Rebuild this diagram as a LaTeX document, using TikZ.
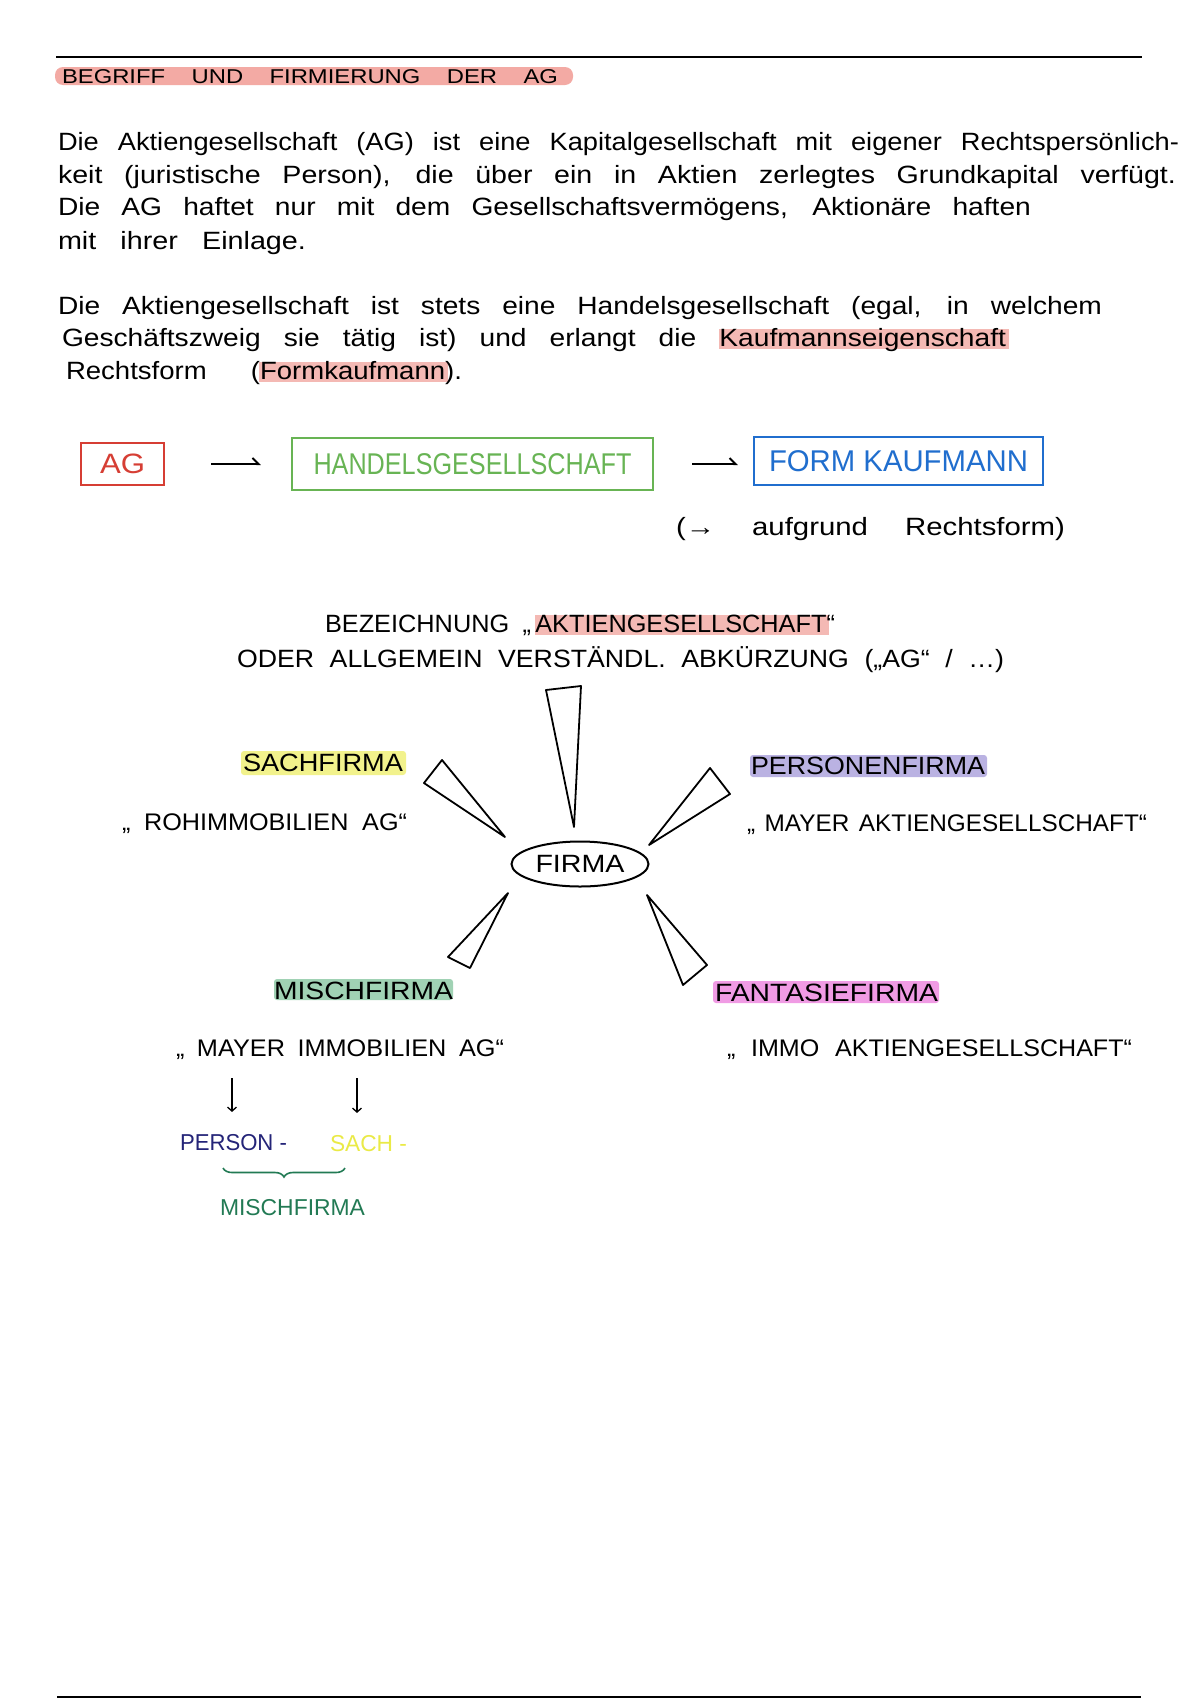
\documentclass[tikz,border=0pt]{standalone}
\usepackage{fontspec}
\setmainfont{Liberation Sans}
\usetikzlibrary{shapes.geometric,arrows.meta,decorations.pathreplacing}
\definecolor{hlred}{RGB}{243,170,164}
\definecolor{hlred2}{RGB}{244,185,180}
\definecolor{agred}{RGB}{214,62,52}
\definecolor{hggreen}{RGB}{104,180,84}
\definecolor{fkblue}{RGB}{32,110,206}
\definecolor{hlyellow}{RGB}{242,242,140}
\definecolor{hlpurple}{RGB}{186,178,226}
\definecolor{hlgreen}{RGB}{160,210,180}
\definecolor{hlmagenta}{RGB}{240,155,228}
\definecolor{navy}{RGB}{36,36,120}
\definecolor{sachyellow}{RGB}{234,234,70}
\definecolor{brgreen}{RGB}{34,122,84}
\newlength\hwlen
\newlength\hwtmp
\newcommand\fitto[2]{\settowidth\hwlen{#2}\pgfmathsetmacro\hwsx{#1/\hwlen}\scalebox{\hwsx}[1]{#2}}
\newcommand\sline[2]{\settowidth\hwlen{#2}\ifdim\hwlen>#1pt\relax\fitto{#1}{#2}\else\pgfmathsetmacro\hwsx{(#1/\hwlen)^0.5}\pgfmathsetmacro\hwW{#1/\hwsx}\scalebox{\hwsx}[1]{\makebox[\hwW pt][s]{#2}}\fi}
\newcommand\hlw[2]{\settowidth\hwtmp{#2}\rlap{\kern-0.5pt\textcolor{#1}{\rule[-3pt]{\dimexpr\hwtmp+3pt\relax}{20pt}}}#2}
\begin{document}
\begin{tikzpicture}[x=1pt,y=-1pt,
  txt/.style={inner sep=0pt, outer sep=0pt, anchor=base west},
  para/.style={txt, font=\fontsize{25}{29}\selectfont},
  lab/.style={txt, font=\fontsize{25}{29}\selectfont},
  quo/.style={txt, font=\fontsize{24}{28}\selectfont},
  box/.style={draw, line width=2.2pt, inner sep=0pt},
  hwarrow/.style={line width=2pt, -{Straight Barb[left,length=6pt,width=12pt]}},
  darr/.style={line width=1.3pt, -{Straight Barb[length=4pt,width=9pt]}},
  spike/.style={draw, line width=1.8pt, line join=round}]
\useasboundingbox[fill=white] (0,0) rectangle (1200,1700);

% rules
\draw[line width=2pt] (56,57) -- (1142,57);
\draw[line width=2pt] (57,1697) -- (1141,1697);

% title
\fill[hlred, rounded corners=8pt] (55,67) rectangle (573,85);
\node[txt, font=\fontsize{20}{24}\selectfont] (title) at (62,83) {\sline{496}{BEGRIFF UND FIRMIERUNG DER AG}};

% paragraph 1
\node[para] (p1a) at (58,150) {\sline{1121}{Die Aktiengesellschaft (AG) ist eine Kapitalgesellschaft mit eigener Rechtspersönlich-}};
\node[para] (p1b) at (58,183) {\sline{1118}{keit (juristische Person), die über ein in Aktien zerlegtes Grundkapital verfügt.}};
\node[para] (p1c) at (58,215) {\sline{973}{Die AG haftet nur mit dem Gesellschaftsvermögens, Aktionäre haften}};
\node[para] (p1d) at (58,249) {\sline{248}{mit ihrer Einlage.}};

% paragraph 2
\node[para] (p2a) at (58,314) {\sline{1044}{Die Aktiengesellschaft ist stets eine Handelsgesellschaft (egal, in welchem}};
\node[para] (p2b) at (62,346) {\sline{944}{Geschäftszweig sie tätig ist) und erlangt die \hlw{hlred2}{Kaufmannseigenschaft}}};
\node[para] (p2c) at (66,379) {\sline{396}{Rechtsform (\hlw{hlred2}{Formkaufmann}).}};

% boxes
\node[box, draw=agred, text=agred, minimum width=83pt, minimum height=42pt, font=\fontsize{28}{32}\selectfont] (ag) at (122.5,464) {\fitto{45}{AG}};
\node[box, draw=hggreen, text=hggreen, minimum width=361pt, minimum height=52pt, font=\fontsize{30}{34}\selectfont] (hg) at (472.5,464) {\fitto{318}{HANDELSGESELLSCHAFT}};
\node[box, draw=fkblue, text=fkblue, minimum width=289pt, minimum height=48pt, font=\fontsize{30}{34}\selectfont] (fk) at (898.5,461) {\fitto{259}{FORM KAUFMANN}};
\draw[hwarrow, shorten <=46pt, shorten >=30pt] (ag.east) -- (hg.west);
\draw[hwarrow, shorten <=38pt, shorten >=15pt] (hg.east) -- (hg.east -| fk.west);
\node[para] (auf) at (676,535) {\sline{389}{(→ aufgrund Rechtsform)}};

% Bezeichnung
\node[lab] (bez1) at (325,632) {\sline{510}{BEZEICHNUNG „\,\hlw{hlred2}{AKTIENGESELLSCHAFT}“}};
\node[lab] (bez2) at (237,667) {\sline{767}{ODER ALLGEMEIN VERSTÄNDL. ABKÜRZUNG („AG“ / …)}};

% Firma and spikes
\node[ellipse, draw, line width=2pt, minimum width=137pt, minimum height=45pt, inner sep=0pt, font=\fontsize{25}{29}\selectfont] (firma) at (580,864) {\fitto{89}{FIRMA}};
\draw[spike] (574,827) -- (546,690) -- (581,686) -- cycle;
\draw[spike] (505,837) -- (442,760) -- (424,783) -- cycle;
\draw[spike] (649,845) -- (710,768) -- (730,794) -- cycle;
\draw[spike] (508,893) -- (448,957) -- (470,968) -- cycle;
\draw[spike] (647,895) -- (707,965) -- (683,985) -- cycle;

% labels
\fill[hlyellow, rounded corners=3pt] (241,751) rectangle (406,775);
\node[lab] (sach) at (243,771) {\fitto{160}{SACHFIRMA}};
\node[quo] (sachex) at (122,830) {\sline{285}{„ ROHIMMOBILIEN AG“}};
\fill[hlpurple, rounded corners=3pt] (750,755) rectangle (987,777);
\node[lab] (pers) at (751,774) {\fitto{234}{PERSONENFIRMA}};
\node[quo] (persex) at (747,831) {\sline{400}{„ MAYER AKTIENGESELLSCHAFT“}};
\fill[hlgreen, rounded corners=3pt] (274,979) rectangle (453,1000);
\node[lab] (misch) at (274,999) {\fitto{179}{MISCHFIRMA}};
\fill[hlmagenta, rounded corners=3pt] (713,981) rectangle (939,1003);
\node[lab] (fant) at (715,1001) {\fitto{223}{FANTASIEFIRMA}};
\node[quo] (mischex) at (176,1056) {\sline{328}{„ MAYER IMMOBILIEN AG“}};
\node[quo] (fantex) at (727,1056) {\sline{405}{„ IMMO AKTIENGESELLSCHAFT“}};

% decomposition
\node[txt, text=navy, font=\fontsize{23}{27}\selectfont] (person) at (180,1150) {\sline{107}{PERSON -}};
\node[txt, text=sachyellow, font=\fontsize{23}{27}\selectfont] (sachp) at (330,1151) {\sline{77}{SACH -}};
\coordinate (d1) at (232,1078);
\coordinate (d2) at (357,1078);
\draw[darr, shorten >=22pt] (d1) -- (d1 |- person.north);
\draw[darr, shorten >=22pt] (d2) -- (d2 |- sachp.north);
\draw[decorate, decoration={brace, mirror, amplitude=9pt}, draw=brgreen, line width=1.6pt] (223,1168) -- (345,1168);
\node[txt, text=brgreen, font=\fontsize{23}{27}\selectfont] (mischlbl) at (220,1215) {\fitto{145}{MISCHFIRMA}};
\end{tikzpicture}
\end{document}
